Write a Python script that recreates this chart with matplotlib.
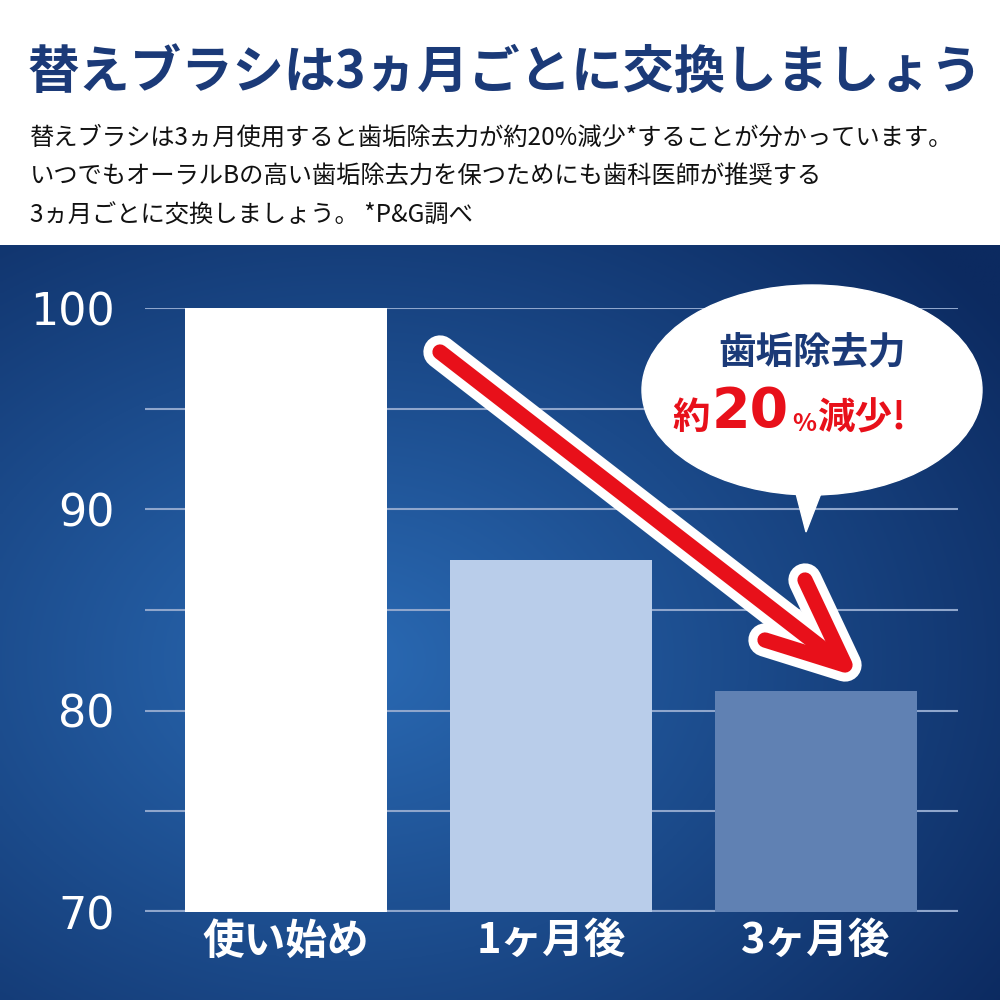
import matplotlib
matplotlib.use("Agg")
import matplotlib.pyplot as plt
import numpy as np
from matplotlib.patches import Ellipse, Polygon

plt.rcParams['font.family'] = ['Noto Sans CJK JP', 'DejaVu Sans']

categories = ["使い始め", "1ヶ月後", "3ヶ月後"]
values = [100, 87.5, 81]
bar_colors = ["#ffffff", "#b9cdea", "#6081b3"]
yticks = [70, 80, 90, 100]

fig = plt.figure(figsize=(10, 10), dpi=100)
fig.patch.set_facecolor("white")

bg = fig.add_axes([0, 0, 1, 0.755])
yy, xx = np.mgrid[0:1:300j, 0:1:300j]
d = np.sqrt(((xx - 0.35) / 0.8) ** 2 + ((yy - 0.55) / 0.8) ** 2)
t = np.clip(d, 0, 1)
c1 = np.array([0x2a, 0x6a, 0xb4]) / 255
c2 = np.array([0x0c, 0x2a, 0x60]) / 255
img = c1[None, None, :] * (1 - t[..., None]) + c2[None, None, :] * t[..., None]
bg.imshow(img, aspect="auto", extent=[0, 1, 0, 1])
bg.axis("off")

ax = fig.add_axes([0.145, 0.088, 0.813, 0.604])
ax.set_facecolor("none")
x = np.arange(len(categories))
ax.bar(x, values, width=0.762, color=bar_colors, zorder=3)
ax.set_ylim(70, 100)
ax.set_xlim(-0.532, 2.536)
for v in np.arange(70, 101, 5):
    ax.axhline(v, color="#8fa6cc", lw=3 if v == 70 else 1.5, zorder=1)
ax.set_yticks(yticks)
ax.set_yticklabels([str(v) for v in yticks], color="white", fontsize=32, fontweight="medium",
                   family="DejaVu Sans")
ax.tick_params(axis="y", length=0, pad=22)
ax.set_xticks(x)
ax.set_xticklabels(categories, color="white", fontsize=30, fontweight="bold")
ax.tick_params(axis="x", length=0, pad=6)
for s in ax.spines.values():
    s.set_visible(False)

fig.text(0.028, 0.928, "替えブラシは3ヵ月ごとに交換しましょう", fontsize=37, fontweight="bold",
         color="#1b3a78", va="center")
fig.text(0.03, 0.862, "替えブラシは3ヵ月使用すると歯垢除去力が約20%減少*することが分かっています。",
         fontsize=17.5, color="#111111", va="center")
fig.text(0.03, 0.823, "いつでもオーラルBの高い歯垢除去力を保つためにも歯科医師が推奨する",
         fontsize=17.5, color="#111111", va="center")
fig.text(0.03, 0.784, "3ヵ月ごとに交換しましょう。 *P&G調べ",
         fontsize=17.5, color="#111111", va="center")

ov = fig.add_axes([0, 0, 1, 1]); ov.set_xlim(0, 1000); ov.set_ylim(1000, 0); ov.axis("off")
for w, col, z in [(24, "white", 4), (11, "#e8101a", 5)]:
    ov.plot([440, 840], [352, 662], color=col, lw=w, solid_capstyle="round", zorder=z)
    ov.plot([765, 845, 805], [640, 665, 580], color=col, lw=w, solid_capstyle="round",
            solid_joinstyle="round", zorder=z)

ov.add_patch(Polygon([[790, 470], [830, 470], [806, 532]], closed=True, color="white", zorder=6))
ov.add_patch(Ellipse((812, 390), 340, 210, color="white", zorder=6))
ov.text(812, 352, "歯垢除去力", fontsize=27, fontweight="bold", color="#1b3a78",
        ha="center", va="center", zorder=7)
ov.text(672, 418, "約", fontsize=27, fontweight="bold", color="#e8101a", ha="left", va="center", zorder=7)
ov.text(712, 412, "20", fontsize=40, fontweight="bold", color="#e8101a", ha="left", va="center", zorder=7,
        family="DejaVu Sans")
ov.text(792, 424, "%", fontsize=18, fontweight="bold", color="#e8101a", ha="left", va="center", zorder=7)
ov.text(818, 418, "減少!", fontsize=27, fontweight="bold", color="#e8101a", ha="left", va="center", zorder=7)

fig.savefig("out.png", dpi=100)
